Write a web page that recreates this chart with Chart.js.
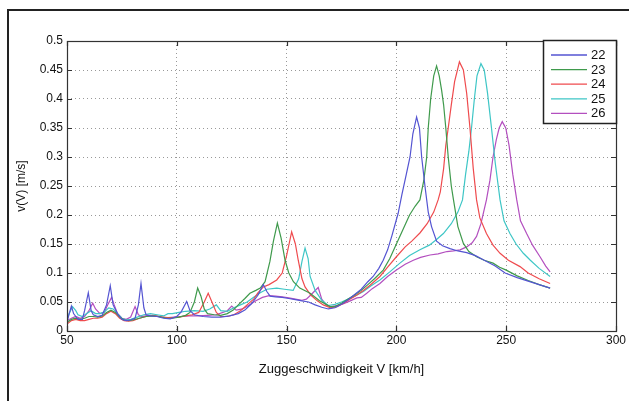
<!DOCTYPE html>
<html lang="de">
<head>
    <meta charset="UTF-8">
    <title>v(V) über Zuggeschwindigkeit</title>
    <script src="https://cdn.jsdelivr.net/npm/chart.js"></script>
    <style>
        body {
            margin: 0;
            background: #fff;
        }
        #wrap {
            position: relative;
            width: 629px;
            height: 401px;
        }
        #frame {
            position: absolute;
            left: 7px;
            top: 9px;
            right: -5px;
            bottom: -5px;
            border-top: 2px solid #222;
            border-left: 2px solid #222;
            pointer-events: none;
        }
        canvas {
            position: absolute;
            left: 0;
            top: 0;
        }
    </style>
</head>
<body>
<div id="wrap">
    <canvas id="chart" width="629" height="401"></canvas>
    <div id="frame"></div>
</div>

<script>
    // Zuggeschwindigkeit V [km/h] and v(V) [m/s]
    const speeds22 = [50, 51, 52, 53, 54, 55, 57, 58, 59.7, 61, 62, 64, 66, 68, 69.7, 71, 73, 75, 77, 79, 81, 82.5, 83.7, 85, 86, 88, 91, 94, 97, 100, 102, 104.5, 106, 108, 112, 116, 120, 124, 128, 131, 134, 137, 139.4, 141, 142.5, 145, 148, 151, 154, 157, 160, 163, 166, 169, 172, 175, 178, 181, 184, 187, 189.4, 192, 194, 196, 198, 200.8, 202.5, 204.5, 206.2, 207.5, 209.2, 210.5, 211.5, 213, 214.5, 216, 218.3, 221, 224.4, 228, 232, 236, 240, 245, 249.5, 255, 260, 265, 270];
    const values22 = [0.015, 0.03, 0.043, 0.03, 0.025, 0.02, 0.02, 0.035, 0.066, 0.035, 0.028, 0.025, 0.027, 0.045, 0.078, 0.045, 0.03, 0.02, 0.018, 0.019, 0.022, 0.045, 0.082, 0.04, 0.028, 0.026, 0.025, 0.022, 0.021, 0.025, 0.033, 0.051, 0.035, 0.028, 0.025, 0.024, 0.024, 0.026, 0.03, 0.036, 0.047, 0.062, 0.08, 0.068, 0.06, 0.059, 0.058, 0.056, 0.054, 0.052, 0.05, 0.045, 0.041, 0.038, 0.04, 0.046, 0.054, 0.063, 0.072, 0.085, 0.094, 0.108, 0.122, 0.14, 0.165, 0.203, 0.235, 0.27, 0.30, 0.34, 0.369, 0.35, 0.30, 0.25, 0.205, 0.18, 0.155, 0.147, 0.142, 0.138, 0.135, 0.13, 0.122, 0.112, 0.1, 0.092, 0.086, 0.08, 0.074];

    const speeds23 = [50, 52, 54, 56, 58, 60, 62, 64, 66, 68, 70, 72, 74, 76, 78, 80, 83, 86, 89, 92, 95, 98, 101, 104, 106, 108, 109.5, 111, 112.5, 114, 117, 120, 123, 125.7, 128, 131, 133.3, 136, 138, 140.2, 142.4, 144, 145.8, 147.5, 149.3, 151, 153.1, 156, 160.7, 165, 169.8, 172, 175, 178, 181, 184, 187, 190, 194, 197, 200.1, 203, 206, 208.5, 210.7, 212.5, 213.8, 214.5, 215.6, 217, 218.3, 219.5, 220.6, 221.5, 222.5, 223.6, 225, 226, 228, 230.5, 233, 236.5, 240, 244, 247, 250, 255, 260, 265, 270];
    const values23 = [0.015, 0.02, 0.022, 0.02, 0.022, 0.025, 0.025, 0.024, 0.026, 0.032, 0.036, 0.032, 0.024, 0.019, 0.018, 0.019, 0.022, 0.025, 0.026, 0.025, 0.022, 0.022, 0.024, 0.027, 0.032, 0.05, 0.074, 0.06, 0.038, 0.03, 0.028, 0.027, 0.03, 0.036, 0.045, 0.056, 0.065, 0.07, 0.074, 0.085, 0.12, 0.155, 0.186, 0.16, 0.122, 0.1, 0.085, 0.074, 0.065, 0.052, 0.042, 0.042, 0.048, 0.055, 0.062, 0.07, 0.08, 0.09, 0.105, 0.125, 0.151, 0.175, 0.2, 0.215, 0.226, 0.26, 0.30, 0.35, 0.40, 0.44, 0.457, 0.44, 0.415, 0.39, 0.35, 0.30, 0.25, 0.226, 0.18, 0.151, 0.137, 0.128, 0.122, 0.117, 0.11, 0.105, 0.095, 0.087, 0.08, 0.074];

    const speeds24 = [50, 52, 54, 56, 58, 60, 62, 64, 66, 68, 70, 72, 74, 76, 78, 80, 83, 86, 89, 92, 95, 98, 101, 104, 107, 110, 112.5, 114.3, 116, 118, 120, 123, 126, 129, 132, 135, 137, 139.4, 142, 145.5, 148, 150, 152.3, 154, 155.3, 157, 158.4, 161, 164, 166.7, 170, 173, 176, 179, 182, 185, 188, 192.5, 196, 200, 204, 207, 210.7, 214, 217, 219, 220, 221.5, 222.5, 223.6, 225, 226.5, 228.7, 230.5, 232, 233.5, 235, 236.5, 238, 241, 244, 247.2, 251, 256.3, 260, 265, 270];
    const values24 = [0.012, 0.018, 0.02, 0.018, 0.018, 0.02, 0.022, 0.022, 0.024, 0.03, 0.034, 0.03, 0.022, 0.018, 0.017, 0.018, 0.022, 0.025, 0.027, 0.025, 0.023, 0.023, 0.024, 0.026, 0.028, 0.032, 0.05, 0.065, 0.05, 0.032, 0.025, 0.025, 0.028, 0.035, 0.045, 0.055, 0.066, 0.076, 0.08, 0.088, 0.1, 0.13, 0.171, 0.15, 0.122, 0.09, 0.076, 0.062, 0.052, 0.045, 0.04, 0.042, 0.048, 0.055, 0.062, 0.07, 0.079, 0.094, 0.11, 0.128, 0.145, 0.155, 0.169, 0.185, 0.205, 0.226, 0.24, 0.28, 0.32, 0.35, 0.39, 0.43, 0.464, 0.45, 0.41, 0.35, 0.28, 0.226, 0.195, 0.168, 0.148, 0.134, 0.122, 0.111, 0.1, 0.09, 0.082];

    const speeds25 = [50, 51, 52.5, 54, 55, 57, 59, 61, 63, 65, 67, 69, 71, 73, 75, 77, 79, 82, 85, 88, 91, 94, 96, 98, 101, 104, 108, 112, 115, 118, 120, 123, 126, 129, 132, 135, 138, 141, 145.5, 149, 153, 155.5, 157, 158.4, 159.8, 160.7, 163, 166, 169, 172, 175, 178, 181, 185, 188.5, 192.5, 197, 201.6, 206, 210.7, 215, 218, 221.4, 225, 228, 230.1, 231.5, 233, 234.2, 235.5, 236.7, 238.5, 240, 241.5, 243.3, 245, 247.2, 249, 251.7, 254.5, 257.8, 261, 265, 270];
    const values25 = [0.02, 0.03, 0.042, 0.035, 0.028, 0.025, 0.03, 0.035, 0.03, 0.03, 0.033, 0.04, 0.038, 0.03, 0.022, 0.019, 0.02, 0.024, 0.028, 0.03, 0.028, 0.026, 0.03, 0.03, 0.032, 0.034, 0.035, 0.034, 0.038, 0.045, 0.035, 0.034, 0.04, 0.045, 0.05, 0.058, 0.066, 0.072, 0.074, 0.072, 0.07, 0.09, 0.12, 0.143, 0.125, 0.094, 0.07, 0.053, 0.044, 0.046, 0.05, 0.055, 0.06, 0.068, 0.078, 0.088, 0.102, 0.117, 0.13, 0.14, 0.148, 0.157, 0.168, 0.185, 0.205, 0.226, 0.27, 0.31, 0.35, 0.40, 0.44, 0.461, 0.45, 0.41, 0.35, 0.29, 0.226, 0.19, 0.168, 0.15, 0.134, 0.122, 0.108, 0.094];

    const speeds26 = [50, 52, 54, 56, 58, 60, 61.7, 63, 65, 67, 68.5, 70.3, 71.5, 73, 75, 77, 79, 81, 82.5, 84, 87, 90, 93, 96, 99, 102, 106, 110, 114, 118, 121, 123, 125, 127, 130, 133, 136, 139, 142, 145, 148, 151, 154, 157, 159, 161, 164.4, 166, 168, 170, 173, 176, 179, 182, 184, 186.5, 189, 192.5, 196, 200, 204, 207.7, 211, 215.3, 219, 223, 226, 229, 232, 234.5, 236.5, 238.5, 241, 242.6, 244, 245.5, 246.8, 248.2, 249.8, 251.3, 253, 254.8, 256.5, 259.3, 262, 265.4, 268, 270];
    const values26 = [0.018, 0.022, 0.025, 0.022, 0.025, 0.035, 0.048, 0.038, 0.03, 0.032, 0.045, 0.058, 0.045, 0.03, 0.022, 0.02, 0.024, 0.042, 0.028, 0.025, 0.027, 0.026, 0.024, 0.023, 0.024, 0.025, 0.026, 0.026, 0.027, 0.028, 0.032, 0.035, 0.043, 0.036, 0.038, 0.045, 0.052, 0.058, 0.061, 0.06, 0.059, 0.057, 0.055, 0.053, 0.055, 0.062, 0.075, 0.055, 0.045, 0.042, 0.044, 0.047, 0.052, 0.057, 0.058, 0.065, 0.073, 0.082, 0.094, 0.105, 0.115, 0.122, 0.127, 0.131, 0.133, 0.137, 0.138, 0.14, 0.145, 0.152, 0.163, 0.185, 0.226, 0.26, 0.3, 0.33, 0.35, 0.361, 0.35, 0.32, 0.27, 0.226, 0.19, 0.168, 0.148, 0.128, 0.112, 0.102];

    const seriesLabels = ['22', '23', '24', '25', '26'];
    const seriesColors = ['#5454d2', '#3f9a4c', '#ef4b4e', '#3ec6c6', '#b34fbf'];
    const xTicks = [50, 100, 150, 200, 250, 300];
    const yTicks = [0, 0.05, 0.1, 0.15, 0.2, 0.25, 0.3, 0.35, 0.4, 0.45, 0.5];

    const allSpeeds = [speeds22, speeds23, speeds24, speeds25, speeds26];
    const allValues = [values22, values23, values24, values25, values26];

    const datasets = seriesLabels.map((label, i) => ({
        label: label,
        data: allSpeeds[i].map((x, j) => ({ x: x, y: allValues[i][j] })),
        borderColor: seriesColors[i],
        borderWidth: 1.2,
        pointRadius: 0,
        tension: 0,
        fill: false,
    }));

    // box round the plot, inward ticks and the legend inside the top right corner
    const matlabLook = {
        id: 'matlabLook',
        afterDatasetsDraw(chart) {
            const ctx = chart.ctx;
            const a = chart.chartArea;
            const xs = chart.scales.x;
            const ys = chart.scales.y;
            ctx.save();
            ctx.strokeStyle = '#333';
            ctx.lineWidth = 1.2;
            ctx.beginPath();
            xTicks.forEach(v => {
                const px = Math.round(xs.getPixelForValue(v)) + 0.5;
                ctx.moveTo(px, a.bottom); ctx.lineTo(px, a.bottom - 5);
                ctx.moveTo(px, a.top); ctx.lineTo(px, a.top + 5);
            });
            yTicks.forEach(v => {
                const py = Math.round(ys.getPixelForValue(v)) + 0.5;
                ctx.moveTo(a.left, py); ctx.lineTo(a.left + 5, py);
                ctx.moveTo(a.right, py); ctx.lineTo(a.right - 5, py);
            });
            ctx.stroke();
            ctx.strokeRect(a.left + 0.5, a.top + 0.5, a.right - a.left, a.bottom - a.top);

            // legend
            const w = 73, h = 83;
            const lx = a.right - w, ly = a.top - 1;
            ctx.fillStyle = '#fff';
            ctx.fillRect(lx, ly, w, h);
            ctx.strokeStyle = '#222';
            ctx.lineWidth = 1.5;
            ctx.strokeRect(lx + 0.5, ly + 0.5, w, h);
            ctx.font = '13px "Liberation Sans", Arial, sans-serif';
            ctx.textBaseline = 'middle';
            ctx.textAlign = 'left';
            chart.data.datasets.forEach((ds, i) => {
                const y = ly + 15 + i * 14.6;
                ctx.strokeStyle = ds.borderColor;
                ctx.lineWidth = 1.3;
                ctx.beginPath();
                ctx.moveTo(lx + 8, y); ctx.lineTo(lx + 44, y);
                ctx.stroke();
                ctx.fillStyle = '#111';
                ctx.fillText(ds.label, lx + 48, y + 0.5);
            });
            ctx.restore();
        }
    };

    const tickFont = { family: '"Liberation Sans", Arial, sans-serif', size: 12 };

    new Chart(document.getElementById('chart'), {
        type: 'line',
        data: { datasets: datasets },
        options: {
            responsive: false,
            animation: false,
            layout: { padding: { left: 0, top: 41, right: 13, bottom: 0 } },
            plugins: {
                legend: { display: false },
                tooltip: { enabled: false },
            },
            scales: {
                x: {
                    type: 'linear',
                    min: 50,
                    max: 300,
                    afterBuildTicks: scale => { scale.ticks = xTicks.map(v => ({ value: v })); },
                    afterFit: scale => { scale.height = 70; },
                    ticks: { font: tickFont, color: '#111', padding: 2, maxRotation: 0 },
                    grid: { color: '#999', drawTicks: false, lineWidth: 1 },
                    border: { display: false, dash: [1, 3] },
                    title: {
                        display: true,
                        text: 'Zuggeschwindigkeit V [km/h]',
                        font: { family: '"Liberation Sans", Arial, sans-serif', size: 13 },
                        color: '#111',
                        padding: { top: 4, bottom: 24 },
                    },
                },
                y: {
                    type: 'linear',
                    min: 0,
                    max: 0.5,
                    afterBuildTicks: scale => { scale.ticks = yTicks.map(v => ({ value: v })); },
                    afterFit: scale => { scale.width = 67; },
                    ticks: {
                        font: tickFont,
                        color: '#111',
                        padding: 4,
                        callback: v => String(Math.round(v * 100) / 100),
                    },
                    grid: { color: '#999', drawTicks: false, lineWidth: 1 },
                    border: { display: false, dash: [1, 3] },
                    title: {
                        display: true,
                        text: 'v(V) [m/s]',
                        font: { family: '"Liberation Sans", Arial, sans-serif', size: 12 },
                        color: '#111',
                        padding: { top: 14, bottom: 4 },
                    },
                },
            },
        },
        plugins: [matlabLook],
    });
</script>
</body>
</html>
